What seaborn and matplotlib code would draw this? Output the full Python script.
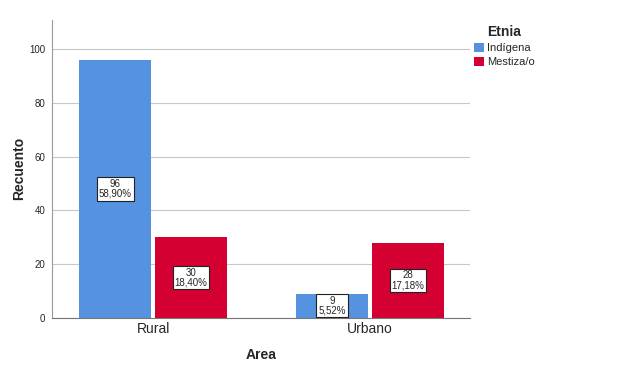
import pandas as pd
import matplotlib.pyplot as plt
import seaborn as sns

areas = ["Rural", "Rural", "Urbano", "Urbano"]
etnias = ["Indígena", "Mestiza/o", "Indígena", "Mestiza/o"]
recuento = [96, 30, 9, 28]
porcentajes = ["58,90%", "18,40%", "5,52%", "17,18%"]

df = pd.DataFrame({"Area": areas, "Etnia": etnias, "Recuento": recuento})

sns.set_style("white")
plt.rcParams["font.family"] = ["Liberation Sans", "DejaVu Sans"]

fig = plt.figure(figsize=(6.29, 3.70), dpi=100)
ax = fig.add_axes([0.083, 0.141, 0.664, 0.805])

palette = {"Indígena": "#5592E0", "Mestiza/o": "#D40031"}
sns.barplot(data=df, x="Area", y="Recuento", hue="Etnia", palette=palette,
            width=0.7, gap=0.05, saturation=1, linewidth=0, ax=ax, legend=True)

ax.set_ylim(0, 111)
ax.set_xlim(-0.465, 1.46)
ax.set_yticks([0, 20, 40, 60, 80, 100])
ax.yaxis.grid(True, color="#c8c8c8", linewidth=0.8)
ax.set_axisbelow(True)
for s in ["top", "right"]:
    ax.spines[s].set_visible(False)
ax.spines["left"].set_color("#9a9a9a")
ax.spines["bottom"].set_color("#777777")
ax.tick_params(axis="y", labelsize=7, length=0, pad=5)
ax.tick_params(axis="x", labelsize=10, length=0, pad=3)
ax.set_ylabel("Recuento", fontsize=10, fontweight="bold", labelpad=2)
ax.set_xlabel("Area", fontsize=10, fontweight="bold", labelpad=9)

# etiquetas dentro de las barras
for cont, et in zip(ax.containers, ["Indígena", "Mestiza/o"]):
    for bar, ar in zip(cont, ["Rural", "Urbano"]):
        idx = [k for k in range(len(areas)) if areas[k] == ar and etnias[k] == et][0]
        h = bar.get_height()
        ax.text(bar.get_x() + bar.get_width() / 2, h / 2,
                f"{recuento[idx]}\n{porcentajes[idx]}", ha="center", va="center",
                fontsize=7, linespacing=0.95,
                bbox=dict(boxstyle="square,pad=0.2", fc="white", ec="#222222", lw=0.8))

leg = ax.legend(title="Etnia", loc="upper left", bbox_to_anchor=(0.746, 0.945),
                bbox_transform=fig.transFigure, frameon=False, fontsize=8,
                handlelength=0.9, handleheight=0.9, handletextpad=0.3,
                labelspacing=0.35, borderaxespad=0)
leg.get_title().set_fontweight("bold")
leg.get_title().set_fontsize(10)

fig.savefig("out.png", dpi=100)
